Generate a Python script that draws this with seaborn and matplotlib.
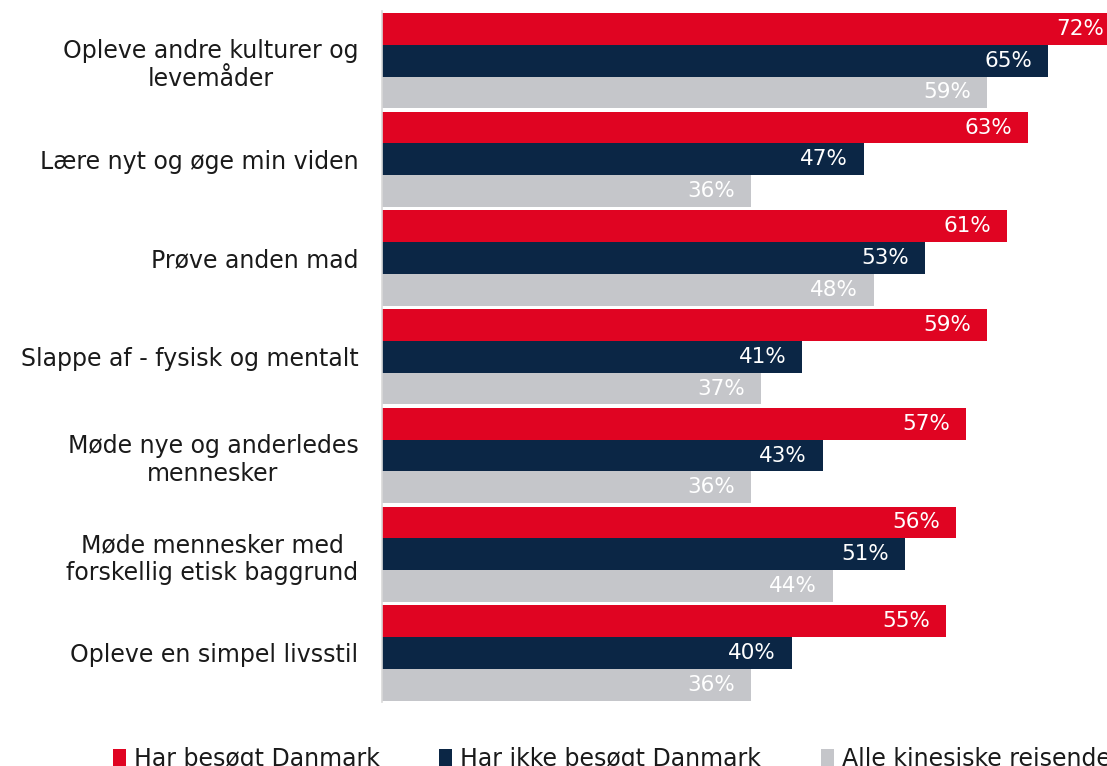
import matplotlib
matplotlib.use("Agg")
import matplotlib.pyplot as plt
from matplotlib.patches import Patch
import pandas as pd
import seaborn as sns

categories = [
    "Opleve andre kulturer og\nlevemåder",
    "Lære nyt og øge min viden",
    "Prøve anden mad",
    "Slappe af - fysisk og mentalt",
    "Møde nye og anderledes\nmennesker",
    "Møde mennesker med\nforskellig etisk baggrund",
    "Opleve en simpel livsstil",
]
series = ["Har besøgt Danmark", "Har ikke besøgt Danmark", "Alle kinesiske rejsende"]
visited = [72, 63, 61, 59, 57, 56, 55]
not_visited = [65, 47, 53, 41, 43, 51, 40]
all_travellers = [59, 36, 48, 37, 36, 44, 36]
colors = ["#E00422", "#0B2645", "#C5C6CA"]

rows = []
for s, vals in zip(series, [visited, not_visited, all_travellers]):
    for c, v in zip(categories, vals):
        rows.append({"kategori": c, "serie": s, "andel": v})
df = pd.DataFrame(rows)

sns.set_theme(style="white")
plt.rcParams["font.family"] = ["DejaVu Sans"]

W, H = 1107, 766
fig = plt.figure(figsize=(W / 100, H / 100), dpi=100)
ax_left, ax_right, ax_top, ax_bottom = 382, 1107, 11.3, 702.3
ax = fig.add_axes([ax_left / W, 1 - ax_bottom / H,
                   (ax_right - ax_left) / W, (ax_bottom - ax_top) / H])

sns.barplot(data=df, y="kategori", x="andel", hue="serie", order=categories,
            hue_order=series, palette=colors, orient="h", width=0.966,
            saturation=1, linewidth=0, ax=ax, legend=False)

ax.set_xlim(0, (ax_right - ax_left) / 10.25)
ax.set_xlabel("")
ax.set_ylabel("")
ax.set_xticks([])
for side in ["top", "right", "bottom"]:
    ax.spines[side].set_visible(False)
ax.spines["left"].set_color("#D9D9D9")
ax.spines["left"].set_linewidth(1.2)
ax.tick_params(axis="y", length=0, pad=17)
for lbl in ax.get_yticklabels():
    lbl.set_fontsize(17)
    lbl.set_color("#1A1A1A")
    lbl.set_multialignment("center")
    lbl.set_linespacing(1.2)

for container in ax.containers:
    for bar in container:
        val = bar.get_width()
        yc = bar.get_y() + bar.get_height() / 2
        ax.annotate(f"{val:.0f}%", xy=(val, yc), xytext=(-11.5, 0),
                    textcoords="offset points", ha="right", va="center",
                    color="white", fontsize=15.5, annotation_clip=False,
                    clip_on=False)

# one legend entry per series, laid out along the bottom edge
legend_x = [113, 439, 821]
for name, color, x in zip(series, colors, legend_x):
    fig.legend([Patch(facecolor=color, edgecolor="none")], [name],
               loc="center left", bbox_to_anchor=(x / W, 1 - 759 / H),
               frameon=False, handlelength=0.55, handleheight=0.8,
               handletextpad=0.34, borderaxespad=0, borderpad=0,
               prop={"size": 17}, labelcolor="#1A1A1A")

fig.savefig("out.png", dpi=100)
